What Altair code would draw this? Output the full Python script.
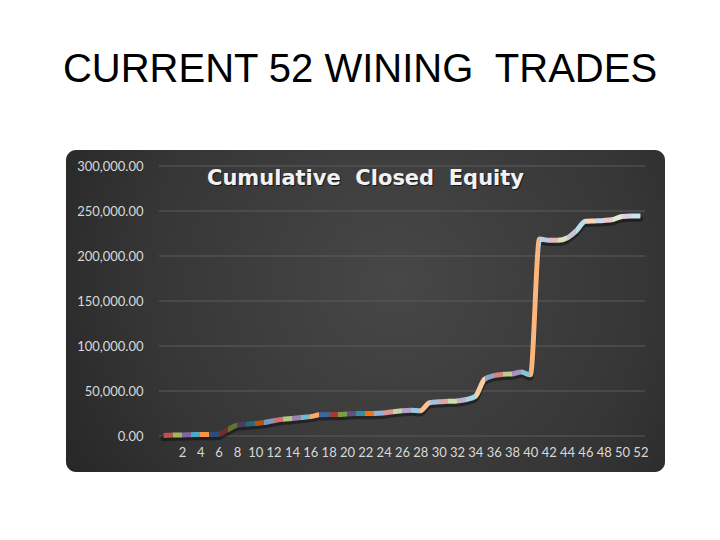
import colorsys
import altair as alt
import pandas as pd

# ---------------- data ----------------
trade = list(range(53))  # first category is blank, then trades 1..52
equity = [
    500, 1000, 1200, 1500, 1800, 1800, 2000, 7000, 12000, 13000,
    14000, 15000, 17000, 18500, 19500, 20500, 21500, 23500, 24000, 24000,
    24500, 25000, 25000, 25000, 25500, 27000, 28000, 28500, 28000, 37000,
    38000, 38500, 39000, 40500, 44000, 63000, 67000, 68500, 69000, 71000,
    68000, 219000, 217500, 217500, 220000, 228000, 238500, 239000, 239500, 240500,
    244000, 244500, 244500,
]
y_ticks = [0, 50000, 100000, 150000, 200000, 250000, 300000]
x_ticks = list(range(2, 53, 2))
slide_title = "CURRENT 52 WINING\u00a0 TRADES"
chart_title = "Cumulative\u00a0 Closed\u00a0 Equity"

# ---------------- styles ----------------
accents = ["#4F81BD", "#C0504D", "#9BBB59", "#8064A2", "#4BACC6", "#F79646"]
variants = [(1, 0), (0.6, 0), (0.8, 0.2), (0.8, 0), (0.6, 0.4),
            (0.5, 0.5), (0.7, 0.3), (0.4, 0.6), (0.3, 0.7)]


def shade(hexc, mod, off):
    r, g, b = [int(hexc[i:i + 2], 16) / 255 for i in (1, 3, 5)]
    h, l, s = colorsys.rgb_to_hls(r, g, b)
    l = min(1.0, l * mod + off)
    r, g, b = colorsys.hls_to_rgb(h, l, s)
    return "#%02x%02x%02x" % tuple(round(v * 255) for v in (r, g, b))


point_colors = [shade(accents[i % 6], *variants[i // 6]) for i in range(len(trade))]
n = len(trade) - 1
stops = []
for i in range(n):
    c = point_colors[i + 1]
    stops.append(alt.GradientStop(color=c, offset=i / n))
    stops.append(alt.GradientStop(color=c, offset=(i + 1) / n))
line_grad = alt.LinearGradient(gradient="linear", stops=stops, x1=0, x2=1, y1=0, y2=0)

bg_grad = alt.RadialGradient(
    gradient="radial",
    stops=[alt.GradientStop(color="#474747", offset=0),
           alt.GradientStop(color="#363636", offset=0.55),
           alt.GradientStop(color="#1f1f1f", offset=1)],
    x1=0.55, y1=0.45, r1=0, x2=0.55, y2=0.45, r2=0.75,
)

W, H = 486, 270
df = pd.DataFrame({"trade": trade, "equity": equity})
grid_df = pd.DataFrame({"equity": y_ticks})
one = pd.DataFrame({"a": [0]})

y_scale = alt.Scale(domain=[0, 300000], nice=False)
y_axis = alt.Axis(values=y_ticks, format=",.2f", title=None, grid=False, ticks=False,
                  domain=False, labelColor="#d9d9d9", labelFont="Lato",
                  labelFontSize=13, labelPadding=16, zindex=1)

x_enc = alt.X(
    "trade:Q",
    scale=alt.Scale(domain=[-0.5, 52.5], nice=False, zero=False),
    axis=alt.Axis(values=x_ticks, title=None, grid=False, ticks=False, domain=False,
                  labelColor="#d9d9d9", labelFont="Lato", labelFontSize=13,
                  labelPadding=10, labelOverlap=False, labelFlush=False, zindex=1),
)
y_enc = alt.Y("equity:Q", scale=y_scale, axis=y_axis)

background = alt.Chart(one).mark_rect(fill=bg_grad, cornerRadius=10).encode(
    x=alt.value(-93), x2=alt.value(506), y=alt.value(-16), y2=alt.value(306)
)

grid = alt.Chart(grid_df).mark_rule(color="#5c5c5c", strokeWidth=1).encode(
    y=y_enc, x=alt.value(0), x2=alt.value(W),
)

shadow = alt.Chart(df).mark_line(
    stroke="#000000", strokeOpacity=0.4, strokeWidth=5.5, yOffset=3,
    interpolate="monotone", strokeCap="round", strokeJoin="round",
).encode(x=x_enc, y=y_enc)

line = alt.Chart(df).mark_line(
    stroke=line_grad, strokeWidth=5, interpolate="monotone",
    strokeCap="butt", strokeJoin="round",
).encode(x=x_enc, y=y_enc)

title_shadow = alt.Chart(one).mark_text(
    text=chart_title, font="DejaVu Sans", fontWeight="bold", fontSize=21,
    color="#000000", opacity=0.6, align="center", baseline="middle",
).encode(x=alt.value(207.5), y=alt.value(14))

title_txt = alt.Chart(one).mark_text(
    text=chart_title, font="DejaVu Sans", fontWeight="bold", fontSize=21,
    color="#f2f2f2", align="center", baseline="middle",
).encode(x=alt.value(206.5), y=alt.value(13))

slide_txt = alt.Chart(one).mark_text(
    text=slide_title, font="Liberation Sans", fontSize=40,
    color="#000000", align="center", baseline="alphabetic",
).encode(x=alt.value(201), y=alt.value(-84))

chart = alt.layer(
    background, grid, shadow, line, title_shadow, title_txt, slide_txt
).properties(
    width=W, height=H,
    autosize=alt.AutoSizeParams(type="none"),
    padding={"left": 151, "top": 158, "right": 67, "bottom": 96},
).configure_view(stroke=None)

chart.save("out.html", embed_options={"renderer": "svg", "actions": False})
